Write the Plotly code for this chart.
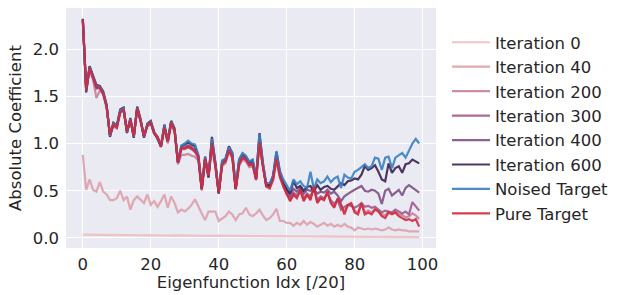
import plotly.graph_objects as go

idx = list(range(100))

pure_target = [
    2.31, 1.57, 1.80, 1.70, 1.60, 1.59, 1.53, 1.39, 1.09, 1.20,
    1.17, 1.33, 1.36, 1.13, 1.25, 1.08, 1.37, 1.24, 1.08, 1.19,
    1.22, 1.11, 1.07, 0.97, 1.17, 1.02, 1.22, 1.14, 0.80, 0.95,
    0.95, 0.97, 0.95, 0.92, 0.86, 0.52, 0.84, 0.66, 1.00, 0.77,
    0.48, 0.78, 0.81, 0.93, 0.86, 0.52, 0.78, 0.85, 0.83, 0.77,
    0.78, 0.62, 1.01, 0.76, 0.55, 0.53, 0.62, 0.84, 0.65, 0.55,
    0.46, 0.39, 0.46, 0.42, 0.51, 0.39, 0.46, 0.40, 0.55, 0.37,
    0.42, 0.40, 0.49, 0.37, 0.32, 0.42, 0.35, 0.25, 0.35, 0.37,
    0.27, 0.25, 0.37, 0.25, 0.27, 0.25, 0.30, 0.28, 0.23, 0.21,
    0.27, 0.25, 0.27, 0.23, 0.21, 0.19, 0.20, 0.18, 0.20, 0.12,
]

noised_target = [
    2.30, 1.56, 1.81, 1.71, 1.61, 1.60, 1.54, 1.40, 1.08, 1.22,
    1.18, 1.35, 1.37, 1.12, 1.26, 1.07, 1.38, 1.25, 1.07, 1.20,
    1.23, 1.12, 1.06, 0.98, 1.19, 1.03, 1.23, 1.15, 0.82, 0.98,
    1.00, 1.03, 1.00, 0.99, 0.88, 0.55, 0.86, 0.66, 1.05, 0.80,
    0.50, 0.82, 0.84, 0.96, 0.90, 0.56, 0.83, 0.90, 0.87, 0.81,
    0.83, 0.65, 1.10, 0.80, 0.58, 0.58, 0.66, 0.92, 0.71, 0.62,
    0.56, 0.50, 0.62, 0.57, 0.60, 0.55, 0.53, 0.70, 0.52, 0.62,
    0.58, 0.60, 0.65, 0.59, 0.63, 0.65, 0.53, 0.67, 0.64, 0.63,
    0.70, 0.72, 0.75, 0.78, 0.74, 0.76, 0.85, 0.84, 0.72, 0.85,
    0.86, 0.74, 0.85, 0.88, 0.90, 0.85, 0.93, 1.00, 1.05, 1.00,
]

iter_600 = [
    2.32, 1.54, 1.82, 1.72, 1.62, 1.61, 1.55, 1.41, 1.07, 1.22,
    1.19, 1.36, 1.38, 1.11, 1.27, 1.06, 1.39, 1.26, 1.06, 1.21,
    1.24, 1.12, 1.05, 0.97, 1.20, 1.03, 1.24, 1.16, 0.80, 0.97,
    0.99, 1.01, 0.99, 0.97, 0.87, 0.52, 0.86, 0.64, 1.07, 0.80,
    0.47, 0.81, 0.84, 0.97, 0.90, 0.52, 0.83, 0.89, 0.86, 0.80,
    0.82, 0.63, 1.11, 0.79, 0.56, 0.56, 0.66, 0.91, 0.70, 0.58,
    0.52, 0.47, 0.60, 0.53, 0.55, 0.50, 0.54, 0.55, 0.49, 0.56,
    0.51, 0.54, 0.55, 0.52, 0.51, 0.55, 0.58, 0.56, 0.60, 0.61,
    0.63, 0.62, 0.67, 0.76, 0.72, 0.74, 0.77, 0.70, 0.62, 0.60,
    0.79, 0.69, 0.74, 0.76, 0.69, 0.78, 0.79, 0.83, 0.81, 0.79,
]

iter_400 = [
    2.31, 1.56, 1.81, 1.70, 1.59, 1.59, 1.53, 1.40, 1.09, 1.21,
    1.18, 1.34, 1.36, 1.13, 1.25, 1.08, 1.37, 1.24, 1.08, 1.19,
    1.22, 1.11, 1.07, 0.97, 1.17, 1.02, 1.22, 1.14, 0.80, 0.95,
    0.96, 0.98, 0.96, 0.93, 0.86, 0.52, 0.84, 0.66, 1.01, 0.78,
    0.48, 0.79, 0.82, 0.94, 0.87, 0.53, 0.80, 0.86, 0.84, 0.78,
    0.80, 0.63, 1.05, 0.77, 0.55, 0.55, 0.64, 0.88, 0.68, 0.57,
    0.50, 0.45, 0.52, 0.49, 0.53, 0.47, 0.51, 0.50, 0.52, 0.47,
    0.49, 0.48, 0.51, 0.47, 0.49, 0.45, 0.39, 0.44, 0.47, 0.49,
    0.51, 0.53, 0.55, 0.50, 0.49, 0.51, 0.50, 0.47, 0.36, 0.50,
    0.52, 0.45, 0.48, 0.51, 0.45, 0.53, 0.56, 0.53, 0.50, 0.48,
]

iter_300 = [
    2.31, 1.57, 1.80, 1.70, 1.58, 1.59, 1.53, 1.39, 1.09, 1.20,
    1.17, 1.33, 1.36, 1.13, 1.25, 1.08, 1.37, 1.24, 1.08, 1.19,
    1.22, 1.11, 1.07, 0.97, 1.17, 1.02, 1.22, 1.14, 0.80, 0.94,
    0.94, 0.96, 0.94, 0.91, 0.85, 0.51, 0.84, 0.66, 1.00, 0.77,
    0.48, 0.78, 0.81, 0.93, 0.86, 0.52, 0.78, 0.85, 0.83, 0.77,
    0.78, 0.62, 1.02, 0.76, 0.55, 0.54, 0.63, 0.86, 0.67, 0.56,
    0.48, 0.42, 0.48, 0.45, 0.50, 0.42, 0.47, 0.44, 0.52, 0.40,
    0.44, 0.42, 0.47, 0.40, 0.36, 0.40, 0.30, 0.33, 0.35, 0.34,
    0.32, 0.34, 0.37, 0.33, 0.34, 0.32, 0.33, 0.30, 0.27, 0.29,
    0.28, 0.27, 0.30, 0.28, 0.26, 0.28, 0.25, 0.38, 0.33, 0.29,
]

iter_200 = [
    2.30, 1.58, 1.78, 1.68, 1.48, 1.56, 1.52, 1.38, 1.08, 1.18,
    1.16, 1.32, 1.35, 1.12, 1.24, 1.07, 1.36, 1.23, 1.07, 1.18,
    1.21, 1.10, 1.06, 0.96, 1.15, 1.00, 1.20, 1.12, 0.78, 0.88,
    0.88, 0.89, 0.87, 0.86, 0.82, 0.50, 0.80, 0.64, 0.96, 0.75,
    0.47, 0.76, 0.79, 0.91, 0.84, 0.51, 0.76, 0.83, 0.81, 0.75,
    0.76, 0.61, 0.98, 0.74, 0.54, 0.52, 0.61, 0.82, 0.64, 0.54,
    0.46, 0.40, 0.45, 0.43, 0.50, 0.40, 0.45, 0.41, 0.53, 0.38,
    0.42, 0.41, 0.48, 0.38, 0.33, 0.41, 0.36, 0.28, 0.35, 0.36,
    0.29, 0.27, 0.36, 0.27, 0.29, 0.27, 0.31, 0.29, 0.25, 0.24,
    0.28, 0.26, 0.28, 0.25, 0.24, 0.22, 0.23, 0.26, 0.24, 0.20,
]

iter_40 = [
    0.88, 0.51, 0.62, 0.51, 0.49, 0.59, 0.49, 0.46, 0.40, 0.40,
    0.42, 0.50, 0.40, 0.44, 0.30, 0.40, 0.44, 0.40, 0.37, 0.46,
    0.35, 0.39, 0.33, 0.39, 0.46, 0.32, 0.44, 0.37, 0.27, 0.30,
    0.28, 0.31, 0.35, 0.41, 0.33, 0.26, 0.19, 0.28, 0.28, 0.28,
    0.18, 0.21, 0.23, 0.28, 0.25, 0.19, 0.25, 0.26, 0.32, 0.25,
    0.23, 0.26, 0.30, 0.24, 0.19, 0.21, 0.25, 0.31, 0.18, 0.18,
    0.16, 0.16, 0.13, 0.16, 0.14, 0.18, 0.14, 0.17, 0.15, 0.12,
    0.14, 0.16, 0.13, 0.15, 0.12, 0.14, 0.12, 0.15, 0.12, 0.11,
    0.08, 0.11, 0.10, 0.09, 0.10, 0.09, 0.10, 0.09, 0.08, 0.09,
    0.11, 0.09, 0.08, 0.09, 0.08, 0.08, 0.07, 0.07, 0.07, 0.07,
]

iter_0 = [
    0.035, 0.034, 0.034, 0.033, 0.034, 0.033, 0.032, 0.033, 0.032, 0.031,
    0.032, 0.031, 0.030, 0.031, 0.030, 0.030, 0.029, 0.030, 0.029, 0.028,
    0.029, 0.028, 0.028, 0.027, 0.028, 0.027, 0.026, 0.027, 0.026, 0.026,
    0.025, 0.026, 0.025, 0.024, 0.025, 0.024, 0.024, 0.023, 0.024, 0.023,
    0.022, 0.023, 0.022, 0.022, 0.021, 0.022, 0.021, 0.020, 0.021, 0.020,
    0.020, 0.019, 0.020, 0.019, 0.019, 0.018, 0.019, 0.018, 0.018, 0.017,
    0.018, 0.017, 0.017, 0.016, 0.017, 0.016, 0.016, 0.015, 0.016, 0.015,
    0.015, 0.015, 0.014, 0.015, 0.014, 0.014, 0.014, 0.013, 0.014, 0.013,
    0.013, 0.013, 0.012, 0.013, 0.012, 0.012, 0.012, 0.012, 0.011, 0.012,
    0.011, 0.011, 0.011, 0.011, 0.010, 0.011, 0.010, 0.010, 0.010, 0.010,
]

series_names = ["Iteration 0", "Iteration 40", "Iteration 200", "Iteration 300",
                "Iteration 400", "Iteration 600", "Noised Target", "Pure Target"]
series_values = [iter_0, iter_40, iter_200, iter_300, iter_400, iter_600,
                 noised_target, pure_target]
series_colors = ["#efbfc1", "#dea0aa", "#c9809f", "#a35a8c", "#7f4f88",
                 "#3a2352", "#3a80c4", "#d42a3b"]

x_ticks = [0, 20, 40, 60, 80, 100]
y_ticks = [0.0, 0.5, 1.0, 1.5, 2.0]

fig = go.Figure()
for name, vals, col in zip(series_names, series_values, series_colors):
    fig.add_trace(go.Scatter(
        x=idx, y=vals, mode="lines", name=name, legendgroup=name,
        line=dict(color=col, width=2.2), opacity=0.9,
    ))

FS = 16.5
fig.update_layout(
    width=621, height=295,
    margin=dict(l=66, r=185, t=8, b=47, autoexpand=False),
    paper_bgcolor="white",
    plot_bgcolor="#eaeaf2",
    font=dict(family="DejaVu Sans", size=FS, color="#262626"),
    showlegend=True,
    legend=dict(
        x=1.0 + 11 / 370, y=0.5, xanchor="left", yanchor="middle",
        bgcolor="rgba(0,0,0,0)", borderwidth=0,
        font=dict(size=FS, color="#262626"),
        tracegroupgap=0, itemwidth=38,
    ),
    xaxis=dict(
        range=[-4.95, 103.95], tickvals=x_ticks, showgrid=True,
        gridcolor="white", gridwidth=1.3, zeroline=False, showline=False,
        ticks="", ticklabelstandoff=4, automargin=False,
        title=dict(text="Eigenfunction Idx [/20]", standoff=2,
                   font=dict(size=FS)),
    ),
    yaxis=dict(
        range=[-0.106, 2.434], tickvals=y_ticks, tickformat=".1f",
        showgrid=True, gridcolor="white", gridwidth=1.3, zeroline=False,
        showline=False, ticks="", ticklabelstandoff=6, automargin=False,
        title=dict(text="Absolute Coefficient", standoff=6,
                   font=dict(size=FS)),
    ),
)

fig.write_html(
    "out.html",
    config={"displayModeBar": False},
    post_script="document.body.style.margin='0';document.body.style.padding='0';",
)
